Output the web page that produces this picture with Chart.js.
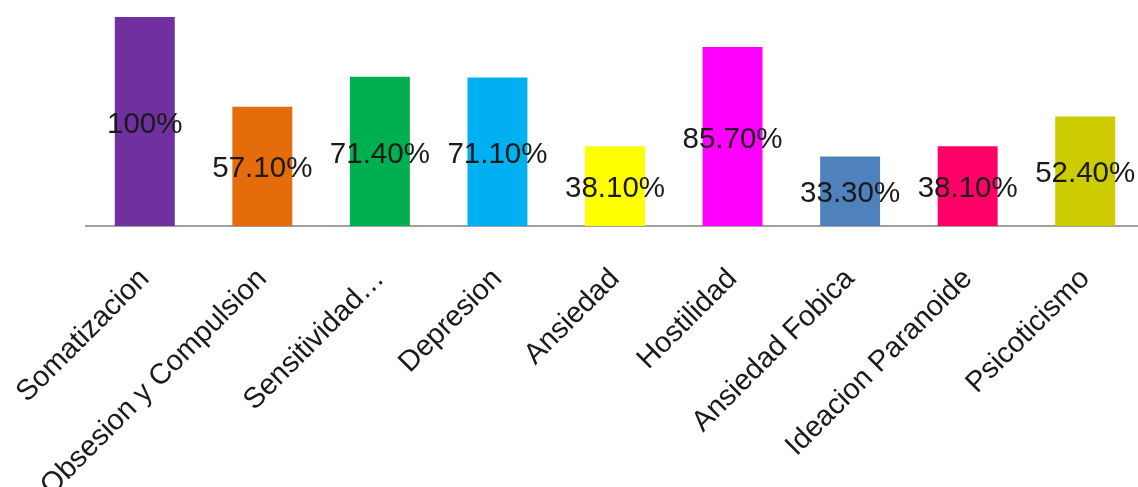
<!DOCTYPE html>
<html>
<head>
<meta charset="utf-8">
<script src="https://cdn.jsdelivr.net/npm/chart.js@4/dist/chart.umd.min.js"></script>
<style>
html,body{margin:0;padding:0;background:#fff;overflow:hidden;}
#wrap{width:1144px;height:487px;position:relative;}
</style>
</head>
<body>
<div id="wrap"><canvas id="c" width="1144" height="487"></canvas></div>
<script>
const categories = ["Somatizacion","Obsesion y Compulsion","Sensitividad…","Depresion","Ansiedad","Hostilidad","Ansiedad Fobica","Ideacion Paranoide","Psicoticismo"];
const values = [100, 57.1, 71.4, 71.1, 38.1, 85.7, 33.3, 38.1, 52.4];
const valueLabels = ["100%","57.10%","71.40%","71.10%","38.10%","85.70%","33.30%","38.10%","52.40%"];
const barColors = ["#7030a0","#e46c0a","#00b050","#00b0f0","#ffff00","#ff00ff","#4f81bd","#ff0066","#cccc00"];

const FONT = "'Liberation Sans', Arial, sans-serif";

const centerLabels = {
  id: 'centerLabels',
  afterDatasetsDraw(chart) {
    const ctx = chart.ctx;
    const meta = chart.getDatasetMeta(0);
    ctx.save();
    ctx.font = "29.5px " + FONT;
    ctx.fillStyle = "#1a1a1a";
    ctx.textAlign = "center";
    ctx.textBaseline = "middle";
    meta.data.forEach((bar, i) => {
      const y = (bar.y + bar.base) / 2;
      ctx.fillText(valueLabels[i], bar.x, y + 3);
    });
    ctx.restore();
  }
};

new Chart(document.getElementById('c'), {
  type: 'bar',
  data: {
    labels: categories,
    datasets: [{
      data: values,
      backgroundColor: barColors,
      borderWidth: 0,
      categoryPercentage: 1.0,
      barPercentage: 0.51
    }]
  },
  options: {
    responsive: false,
    animation: false,
    events: [],
    layout: { padding: { left: 86, top: 17, right: 0, bottom: 0 } },
    plugins: { legend: { display: false }, tooltip: { enabled: false } },
    scales: {
      x: {
        grid: { display: false, drawTicks: false },
        border: { display: true, color: '#a0a0a0', width: 2 },
        ticks: {
          color: '#1a1a1a',
          font: { family: FONT, size: 29 },
          minRotation: 45,
          maxRotation: 45,
          autoSkip: false,
          padding: 36
        },
        afterFit(scale) {
          scale.height = 261;
          scale.paddingLeft = 0;
          scale.paddingRight = 0;
        }
      },
      y: {
        display: false,
        min: 0,
        max: 100
      }
    }
  },
  plugins: [centerLabels]
});
</script>
</body>
</html>
